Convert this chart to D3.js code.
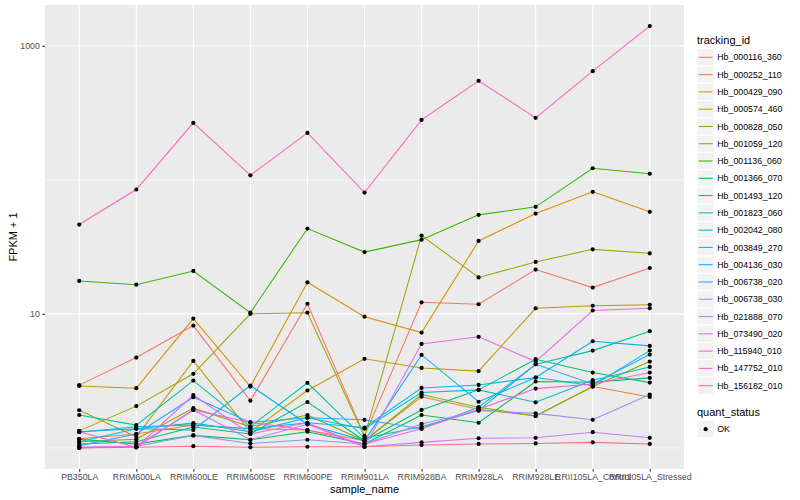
<!DOCTYPE html>
<html>
<head>
<meta charset="utf-8">
<script src="https://cdn.jsdelivr.net/npm/d3@7"></script>
<style>
  body { margin: 0; background: #fff; }
  svg { display: block; font-family: "Liberation Sans", Arial, sans-serif; }
</style>
</head>
<body>
<svg id="chart" width="800" height="500"></svg>
<script>
// sample names on the x axis
var samples = ['PB350LA', 'RRIM600LA', 'RRIM600LE', 'RRIM600SE', 'RRIM600PE', 'RRIM901LA',
               'RRIM928BA', 'RRIM928LA', 'RRIM928LE', 'RRII105LA_Control', 'RRII105LA_Stressed'];

// tracking ids (legend order)
var trackingIds = ['Hb_000116_360', 'Hb_000252_110', 'Hb_000429_090', 'Hb_000574_460', 'Hb_000828_050',
                   'Hb_001059_120', 'Hb_001136_060', 'Hb_001366_070', 'Hb_001493_120', 'Hb_001823_060',
                   'Hb_002042_080', 'Hb_003849_270', 'Hb_004136_030', 'Hb_006738_020', 'Hb_006738_030',
                   'Hb_021888_070', 'Hb_073490_020', 'Hb_115940_010', 'Hb_147752_010', 'Hb_156182_010'];

// FPKM + 1, one row per tracking id, one value per sample
var fpkm = [
  [2.94, 4.72, 8.18, 2.25, 11.9, 1.23, 12.2, 11.8, 21.4, 15.7, 22.0],
  [1.17, 1.27, 1.48, 1.39, 1.36, 1.13, 2.41, 1.94, 1.73, 2.87, 2.40],
  [2.90, 2.79, 9.23, 2.87, 17.2, 9.53, 7.25, 35.0, 56.0, 81.4, 57.7],
  [1.91, 1.21, 4.46, 1.32, 2.68, 4.62, 3.95, 3.74, 11.0, 11.5, 11.7],
  [1.34, 2.05, 3.57, 10.0, 10.2, 1.21, 38.4, 18.7, 24.4, 30.3, 28.3],
  [1.11, 1.16, 1.98, 1.44, 1.76, 1.13, 2.50, 2.01, 1.73, 2.87, 4.41],
  [17.6, 16.5, 20.9, 10.2, 43.3, 28.9, 35.8, 54.8, 62.9, 122, 111],
  [1.16, 1.07, 1.24, 1.15, 1.32, 1.07, 1.76, 1.54, 3.13, 3.09, 3.33],
  [1.07, 1.11, 1.43, 1.27, 2.20, 1.13, 1.92, 2.71, 4.59, 3.65, 3.07],
  [1.76, 1.48, 3.18, 1.44, 3.06, 1.18, 1.44, 1.90, 4.21, 5.32, 7.43],
  [1.11, 1.39, 1.53, 1.32, 1.68, 1.39, 2.59, 2.71, 2.19, 3.20, 4.02],
  [1.31, 1.44, 1.48, 1.39, 1.54, 1.42, 2.80, 2.95, 3.35, 2.91, 5.32],
  [1.32, 1.39, 1.36, 2.92, 1.50, 1.13, 4.94, 2.21, 3.35, 6.25, 5.77],
  [1.04, 1.27, 2.39, 1.55, 1.68, 1.62, 1.39, 2.01, 4.21, 3.00, 4.97],
  [1.01, 1.03, 1.24, 1.08, 1.15, 1.07, 1.51, 1.90, 1.81, 1.62, 2.50],
  [1.01, 1.01, 1.92, 1.15, 1.50, 1.02, 1.10, 1.18, 1.19, 1.31, 1.19],
  [1.32, 1.01, 2.48, 1.27, 1.54, 1.02, 5.97, 6.74, 4.41, 10.6, 11.0],
  [1.00, 1.03, 1.92, 1.55, 1.36, 1.07, 1.39, 1.94, 2.77, 3.00, 3.65],
  [46.4, 84.7, 266, 108, 224, 80.4, 280, 548, 290, 647, 1403],
  [1.00, 1.01, 1.03, 1.01, 1.02, 1.02, 1.05, 1.07, 1.08, 1.10, 1.07]
];

// ggplot default hue palette for 20 levels
var colors = ['#F8766D', '#EA8331', '#D89000', '#C09B00', '#A3A500', '#7CAE00', '#39B600', '#00BB4E',
              '#00BF7D', '#00C1A3', '#00BFC4', '#00BAE0', '#00B0F6', '#35A2FF', '#9590FF', '#C77CFF',
              '#E76BF3', '#FA62DB', '#FF62BC', '#FF6C91'];

var yBreaks = [10, 1000];
var yMinor  = [1, 100];

var svg = d3.select('#chart');
var panel = { left: 45, right: 684, top: 5, bottom: 469 };

// x: discrete, 0.6 step expansion like ggplot
var x = d3.scalePoint()
    .domain(samples)
    .range([panel.left, panel.right])
    .padding(0.6);

// y: log10 with 5% expansion of the data range
var all = [].concat.apply([], fpkm);
var lo = Math.log10(d3.min(all)), hi = Math.log10(d3.max(all));
var pad = (hi - lo) * 0.05;
var y = d3.scaleLog()
    .domain([Math.pow(10, lo - pad), Math.pow(10, hi + pad)])
    .range([panel.bottom, panel.top]);

// panel background
svg.append('rect')
    .attr('x', panel.left).attr('y', panel.top)
    .attr('width', panel.right - panel.left)
    .attr('height', panel.bottom - panel.top)
    .attr('fill', '#EBEBEB');

var grid = svg.append('g');
grid.selectAll('line.minor').data(yMinor).enter().append('line')
    .attr('x1', panel.left).attr('x2', panel.right)
    .attr('y1', function (d) { return y(d); })
    .attr('y2', function (d) { return y(d); })
    .attr('stroke', '#fff').attr('stroke-width', 0.55);
grid.selectAll('line.major').data(yBreaks).enter().append('line')
    .attr('x1', panel.left).attr('x2', panel.right)
    .attr('y1', function (d) { return y(d); })
    .attr('y2', function (d) { return y(d); })
    .attr('stroke', '#fff').attr('stroke-width', 1.1);
grid.selectAll('line.vx').data(samples).enter().append('line')
    .attr('x1', function (d) { return x(d); })
    .attr('x2', function (d) { return x(d); })
    .attr('y1', panel.top).attr('y2', panel.bottom)
    .attr('stroke', '#fff').attr('stroke-width', 1.1);

// lines
var line = d3.line()
    .x(function (d, i) { return x(samples[i]); })
    .y(function (d) { return y(d); });

svg.append('g').selectAll('path').data(fpkm).enter().append('path')
    .attr('d', line)
    .attr('fill', 'none')
    .attr('stroke', function (d, i) { return colors[i]; })
    .attr('stroke-width', 1.07);

// points (all quant_status OK)
var pts = svg.append('g');
fpkm.forEach(function (row) {
    pts.selectAll(null).data(row).enter().append('circle')
        .attr('cx', function (d, i) { return x(samples[i]); })
        .attr('cy', function (d) { return y(d); })
        .attr('r', 2.1)
        .attr('fill', '#000');
});

// axes
var xAxis = d3.axisBottom(x).tickSize(2.7).tickPadding(2.5);
var gx = svg.append('g').attr('transform', 'translate(0,' + panel.bottom + ')').call(xAxis);
var yAxis = d3.axisLeft(y).tickValues(yBreaks).tickFormat(d3.format('d')).tickSize(2.7).tickPadding(2.5);
var gy = svg.append('g').attr('transform', 'translate(' + panel.left + ',0)').call(yAxis);
[gx, gy].forEach(function (g) {
    g.select('.domain').remove();
    g.selectAll('.tick line').attr('stroke', '#333333').attr('stroke-width', 1.07);
    g.selectAll('.tick text').attr('fill', '#4D4D4D').style('font-size', '8.8px')
        .style('font-family', '"Liberation Sans", Arial, sans-serif');
});

svg.append('text')
    .attr('x', (panel.left + panel.right) / 2).attr('y', 493)
    .attr('text-anchor', 'middle')
    .style('font-size', '11px')
    .text('sample_name');
svg.append('text')
    .attr('transform', 'translate(17,' + ((panel.top + panel.bottom) / 2) + ') rotate(-90)')
    .attr('text-anchor', 'middle')
    .style('font-size', '11px')
    .text('FPKM + 1');

// legend: tracking_id
var keyH = 17.28, keyX = 697, key0 = 48.7;
var leg = svg.append('g');
leg.append('text').attr('x', keyX).attr('y', 44).style('font-size', '11px').text('tracking_id');
var items = leg.selectAll('g.item').data(trackingIds).enter().append('g')
    .attr('transform', function (d, i) { return 'translate(' + keyX + ',' + (key0 + i * keyH) + ')'; });
items.append('rect').attr('width', keyH).attr('height', keyH)
    .attr('fill', '#F2F2F2').attr('stroke', '#fff').attr('stroke-width', 1);
items.append('line')
    .attr('x1', 1.7).attr('x2', keyH - 1.7)
    .attr('y1', keyH / 2).attr('y2', keyH / 2)
    .attr('stroke', function (d, i) { return colors[i]; })
    .attr('stroke-width', 1.07);
items.append('text')
    .attr('x', keyH + 3).attr('y', keyH / 2 + 3.1)
    .style('font-size', '8.8px')
    .text(function (d) { return d; });

// legend: quant_status
var qs = svg.append('g');
qs.append('text').attr('x', keyX).attr('y', 416).style('font-size', '11px').text('quant_status');
var okKey = qs.append('g').attr('transform', 'translate(' + keyX + ',420.5)');
okKey.append('rect').attr('width', keyH).attr('height', keyH)
    .attr('fill', '#F2F2F2').attr('stroke', '#fff').attr('stroke-width', 1);
okKey.append('circle').attr('cx', keyH / 2).attr('cy', keyH / 2).attr('r', 2.1).attr('fill', '#000');
okKey.append('text').attr('x', keyH + 3).attr('y', keyH / 2 + 3.1)
    .style('font-size', '8.8px').text('OK');
</script>
</body>
</html>
